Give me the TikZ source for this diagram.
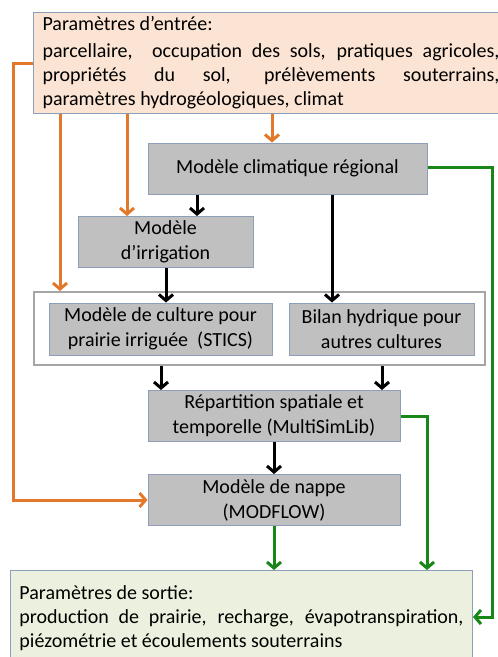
\documentclass[tikz,border=0pt]{standalone}
\usepackage{fontspec}
\setmainfont{Carlito}
\usetikzlibrary{arrows.meta}
\definecolor{peche}{RGB}{252,228,212}
\definecolor{vertclair}{RGB}{235,241,222}
\definecolor{grismod}{RGB}{192,192,192}
\definecolor{bordmod}{RGB}{140,158,184}
\definecolor{bordcadre}{RGB}{166,166,166}
\definecolor{orangef}{RGB}{228,120,42}
\definecolor{vertf}{RGB}{24,135,24}
\tikzset{
  modele/.style={draw=bordmod, line width=1pt, fill=grismod, align=center, inner sep=0pt,
    font=\fontsize{20}{25}\selectfont},
  cadre/.style={draw=bordcadre, line width=2pt, fill=white, inner sep=0pt},
  entree/.style={draw=bordmod, line width=1pt, fill=peche, text width=457pt, inner xsep=9pt,
    inner ysep=0pt, align=justify, anchor=north west},
  sortie/.style={draw=bordmod, line width=1pt, fill=vertclair, text width=444pt, inner xsep=9pt,
    inner ysep=0pt, align=justify, anchor=north west},
  fleche/.style={line width=3pt, -{Straight Barb[length=6pt,width=14pt]}},
  forange/.style={fleche, draw=orangef},
  fvert/.style={fleche, draw=vertf},
  fnoir/.style={fleche, draw=black}
}
\begin{document}
\begin{tikzpicture}[x=1pt,y=-1pt,font=\fontsize{20}{24}\selectfont]
\useasboundingbox (0,0) rectangle (498,657);
% parametres d'entree
\node[entree, minimum height=101pt] (inp) at (33,12)
  {Paramètres d’entrée:\\[3pt]
   parcellaire,\ \ occupation des sols, pratiques agricoles,\linebreak
   propriétés du sol, prélèvements souterrains,\linebreak
   paramètres hydrogéologiques, climat};
% modeles
\node[modele, minimum width=279pt, minimum height=51pt] (clim) at (287.5,168.5) {Modèle climatique régional};
\node[modele, minimum width=175pt, minimum height=51pt] (irr) at (165.5,242) {Modèle\\ d’irrigation};
\node[cadre, minimum width=451pt, minimum height=73pt] (cont) at (259.5,328.5) {};
\node[modele, minimum width=223pt, minimum height=52pt] (cult) at (160.5,329) {Modèle de culture pour\\ prairie irriguée\ \ (STICS)};
\node[modele, minimum width=185pt, minimum height=52pt] (bil) at (381.5,329) {Bilan hydrique pour\\ autres cultures};
\node[modele, minimum width=252pt, minimum height=51pt] (rep) at (274,416) {Répartition spatiale et\\ temporelle (MultiSimLib)};
\node[modele, minimum width=252pt, minimum height=51pt] (nap) at (274,500) {Modèle de nappe\\ (MODFLOW)};
% parametres de sortie
\node[sortie, minimum height=96pt] (out) at (10,570)
  {Paramètres de sortie:\\
   production de prairie, recharge, évapotranspiration,\linebreak
   piézométrie et écoulements souterrains};
% fleches orange
\coordinate (lft) at (13,0 |- inp.west);
\draw[forange] (inp.west) -- (lft) |- (nap.west);
\draw[forange] (60,0 |- inp.south) -- (60,0 |- cont.north);
\draw[forange] (127,0 |- inp.south) -- (127,0 |- irr.north);
\draw[forange] (272,0 |- inp.south) -- (272,0 |- clim.north);
% fleches noires
\draw[fnoir] (197,0 |- clim.south) -- (197,0 |- irr.north);
\draw[fnoir] (332,0 |- clim.south) -- (332,0 |- bil.north);
\draw[fnoir] (166,0 |- irr.south) -- (166,0 |- cult.north);
\draw[fnoir] (161,0 |- cont.south) -- (161,0 |- rep.north);
\draw[fnoir] (382,0 |- cont.south) -- (382,0 |- rep.north);
\draw[fnoir] (rep.south) -- (nap.north);
% fleches vertes
\coordinate (gd) at (492,617);
\draw[fvert] ([yshift=1.5pt]clim.east) -| (gd) -- (out.east |- gd);
\draw[fvert] (rep.east) -| (427,0 |- out.north);
\draw[fvert] (nap.south) -- (nap.south |- out.north);
\end{tikzpicture}
\end{document}
